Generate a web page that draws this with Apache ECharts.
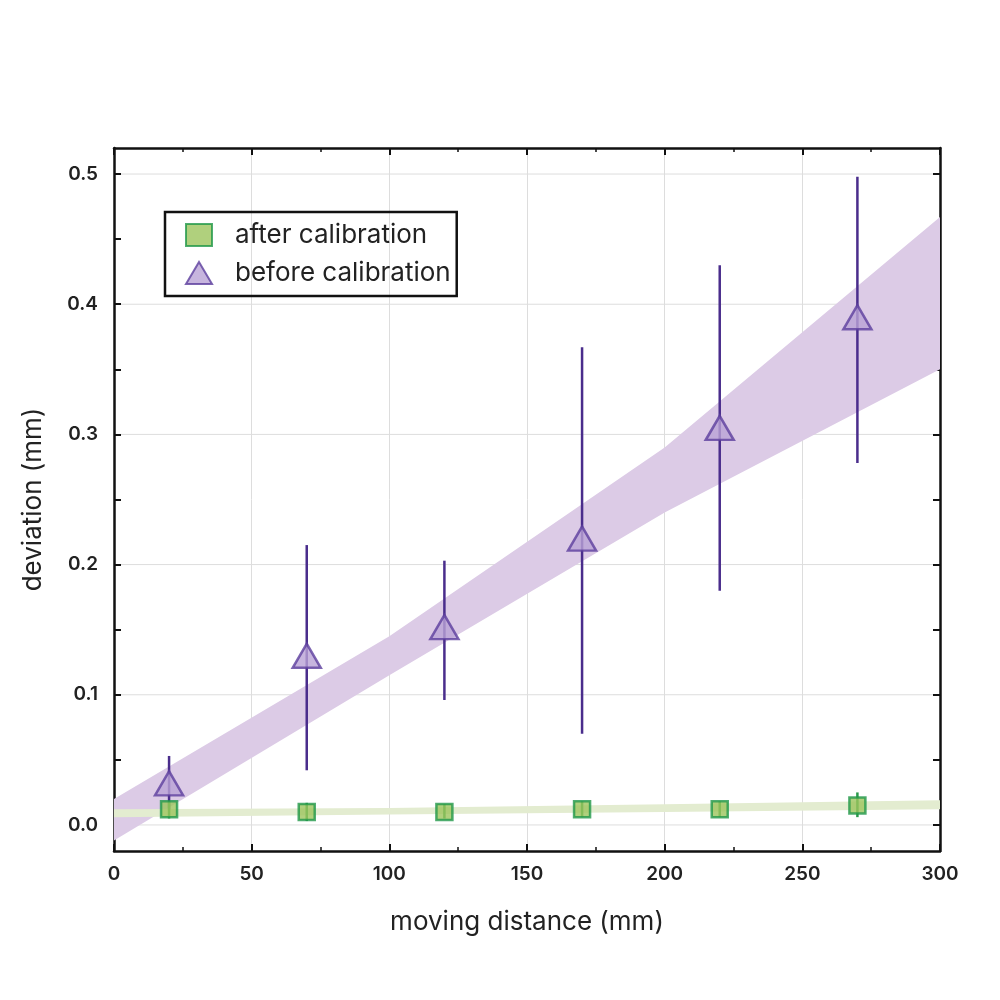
<!DOCTYPE html><html><head><meta charset="utf-8"><script src="https://cdn.jsdelivr.net/npm/echarts@6/dist/echarts.min.js"></script></head><body style="margin:0"><div id="c" style="width:1000px;height:1000px"></div><script>
const xs=[20,70,120,170,220,270];
const beforeY=[0.032,0.13,0.152,0.22,0.305,0.39];
const beforeLo=[0.012,0.042,0.096,0.07,0.18,0.278];
const beforeHi=[0.053,0.215,0.203,0.367,0.43,0.498];
const afterY=[0.012,0.01,0.01,0.012,0.012,0.015];
const afterLo=[0.005,0.003,0.005,0.006,0.006,0.006];
const afterHi=[0.018,0.017,0.016,0.018,0.018,0.025];
const bandX=[0,100,200,300];
const bBandLo=[-0.012,0.115,0.24,0.35];
const bBandHi=[0.02,0.145,0.29,0.467];
const aBandLo=[0.006,0.008,0.010,0.012];
const aBandHi=[0.012,0.013,0.016,0.019];
const ch=echarts.init(document.getElementById('c'));
const F='Inter';
function band(lo,hi,color){return {type:'custom',z:1,silent:true,data:[0],clip:true,renderItem:(p,api)=>{
 const pts=bandX.map((x,i)=>api.coord([x,hi[i]])).concat(bandX.slice().reverse().map((x,j)=>api.coord([x,lo[bandX.length-1-j]])));
 return {type:'polygon',shape:{points:pts},style:{fill:color}};}};}
function err(lo,hi,color,w){return {type:'custom',z:3,data:xs.map((x,i)=>[x,lo[i],hi[i]]),renderItem:(p,api)=>{const a=api.coord([api.value(0),api.value(1)]),b=api.coord([api.value(0),api.value(2)]);return {type:'line',shape:{x1:a[0],y1:a[1],x2:b[0],y2:b[1]},style:{stroke:color,lineWidth:w}};}};}
const line={show:true,onZero:false,lineStyle:{color:'#111',width:2.5}};
const tick={inside:true,length:7,lineStyle:{color:'#111',width:2}};
const minor={show:true,splitNumber:2,length:4,lineStyle:{color:'#111',width:1.5}};
const yTickVals=[0,0.1,0.2,0.3,0.4,0.5];
ch.setOption({
 animation:false,
 grid:{left:114,right:60,top:148,bottom:149},
 legend:{left:165,top:212,orient:'vertical',borderColor:'#111',borderWidth:2.5,padding:[10,6,10,20],itemGap:12,itemWidth:26,itemHeight:22,
  data:['after calibration','before calibration'],textStyle:{fontFamily:F,fontSize:26,color:'#222',padding:[0,0,0,18]}},
 xAxis:[{type:'value',min:0,max:300,interval:50,axisLine:line,axisTick:tick,minorTick:minor,splitLine:{lineStyle:{color:'#ddd'}},axisLabel:{fontFamily:F,fontSize:19,fontWeight:600,color:'#222',margin:14},
  name:'moving distance (mm)',nameLocation:'middle',nameGap:58,nameTextStyle:{fontFamily:F,fontSize:26,color:'#222'}},
  {type:'value',position:'top',min:0,max:300,interval:50,axisLine:line,axisTick:tick,minorTick:minor,axisLabel:{show:false},splitLine:{show:false}}],
 yAxis:[{type:'value',min:-0.02,max:0.52,axisLine:line,minorTick:{show:false},
  axisLabel:{fontFamily:F,fontSize:19,fontWeight:600,color:'#222',margin:16,customValues:yTickVals,formatter:v=>v.toFixed(1)},
  axisTick:{...tick,customValues:yTickVals.concat([0.05,0.15,0.25,0.35,0.45])},
  splitLine:{show:false},
  name:'deviation (mm)',nameLocation:'middle',nameGap:68,nameTextStyle:{fontFamily:F,fontSize:26,color:'#222'}},
  {type:'value',position:'right',min:-0.02,max:0.52,axisLine:line,axisLabel:{show:false},axisTick:{...tick,customValues:yTickVals.concat([0.05,0.15,0.25,0.35,0.45])},splitLine:{show:false}}],
 series:[
  {type:'custom',z:0,silent:true,data:yTickVals,renderItem:(p,api)=>{const a=api.coord([0,api.value(0)]),b=api.coord([300,api.value(0)]);return {type:'line',shape:{x1:a[0],y1:a[1],x2:b[0],y2:b[1]},style:{stroke:'#ddd',lineWidth:1}};}},
  band(bBandLo,bBandHi,'#dccbe6'),
  band(aBandLo,aBandHi,'#e3ecd0'),
  err(beforeLo,beforeHi,'#4a2d8c',2.5),
  err(afterLo,afterHi,'#2a9a4a',2.5),
  {type:'scatter',name:'before calibration',data:xs.map((x,i)=>[x,beforeY[i]]),symbol:'triangle',symbolSize:[28,24],itemStyle:{color:'#b9a3d6',borderColor:'#5d3f9e',borderWidth:2.5},z:5},
  {type:'scatter',name:'after calibration',data:xs.map((x,i)=>[x,afterY[i]]),symbol:'rect',symbolSize:16,itemStyle:{color:'#9cc45c',borderColor:'#22994a',borderWidth:2.5},z:5}
 ]});
</script></body></html>
